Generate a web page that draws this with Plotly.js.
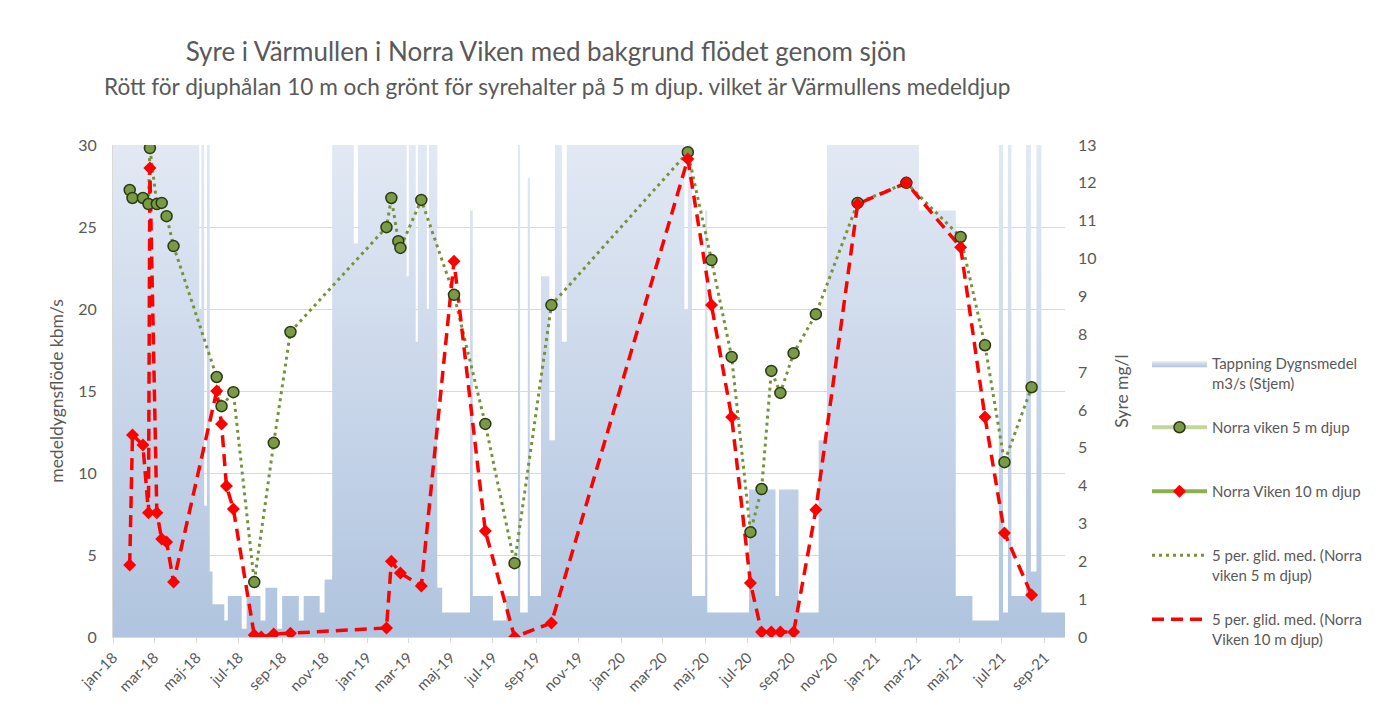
<!DOCTYPE html>
<html>
<head>
<meta charset="utf-8">
<script src="https://cdn.plot.ly/plotly-3.0.1.min.js"></script>
<style>html,body{margin:0;padding:0;background:#fff;}#chart{width:1394px;height:716px;}</style>
</head>
<body>
<div id="chart"></div>
<script>
// Tick labels (every second month, Swedish abbreviations)
const tickDates = ['2018-01-01','2018-03-01','2018-05-01','2018-07-01','2018-09-01','2018-11-01',
  '2019-01-01','2019-03-01','2019-05-01','2019-07-01','2019-09-01','2019-11-01',
  '2020-01-01','2020-03-01','2020-05-01','2020-07-01','2020-09-01','2020-11-01',
  '2021-01-01','2021-03-01','2021-05-01','2021-07-01','2021-09-01'];
const tickLabels = ['jan-18','mar-18','maj-18','jul-18','sep-18','nov-18',
  'jan-19','mar-19','maj-19','jul-19','sep-19','nov-19',
  'jan-20','mar-20','maj-20','jul-20','sep-20','nov-20',
  'jan-21','mar-21','maj-21','jul-21','sep-21'];

// Flow (Tappning dygnsmedel m3/s), step values read from the background
const flowDates = ['2018-01-01','2018-05-05','2018-05-08','2018-05-12','2018-05-16','2018-05-20','2018-05-24','2018-06-10','2018-06-15',
  '2018-07-05','2018-07-12','2018-08-01','2018-08-08','2018-08-25','2018-09-01','2018-09-25','2018-10-02','2018-10-25',
  '2018-11-01','2018-11-12','2018-12-13','2018-12-19','2019-02-27','2019-03-02','2019-03-12','2019-03-15','2019-03-28',
  '2019-03-31','2019-04-12','2019-04-19','2019-05-29','2019-06-02','2019-07-01','2019-07-20','2019-08-06','2019-08-09',
  '2019-08-20','2019-08-23','2019-09-08','2019-09-20','2019-09-28','2019-10-08','2019-10-15','2020-04-01','2020-04-06',
  '2020-04-12','2020-05-01','2020-05-04','2020-07-03','2020-08-10','2020-08-15','2020-09-12','2020-10-11','2020-10-23',
  '2021-03-04','2021-04-26','2021-05-20','2021-06-27','2021-07-03','2021-07-10','2021-07-15','2021-08-05','2021-08-12',
  '2021-08-20','2021-08-27','2021-09-30'];
const flowValues = [36,20,34,8,30,4,2,1,2.5,
  0.5,2.5,1,3,0.5,2.5,1,2.5,1.5,
  3.5,36,24,36,22,36,18,36,20,
  36,3,1.5,26,2.5,1,2.5,30,1.5,
  28,2.5,22,12,30,18,36,20,34,
  2.5,26,1.5,9,2.5,9,1.5,12,36,
  26,2.5,1,32,1.5,30,2.5,32,4,
  30,1.5,1.5];

// Oxygen, Norra viken 5 m depth (mg/l)
const green5Dates = ['2018-01-25','2018-01-29','2018-02-13','2018-02-21','2018-02-23','2018-03-05','2018-03-12','2018-03-19','2018-03-29',
  '2018-05-30','2018-06-06','2018-06-23','2018-07-23','2018-08-20','2018-09-13',
  '2019-01-29','2019-02-05','2019-02-15','2019-02-18','2019-03-20','2019-05-06','2019-06-20','2019-08-01','2019-09-23',
  '2020-04-06','2020-05-10','2020-06-08','2020-07-05','2020-07-21','2020-08-04','2020-08-17','2020-09-05','2020-10-07','2020-12-06',
  '2021-02-14','2021-05-03','2021-06-07','2021-07-05','2021-08-13'];
const green5Values = [11.81,11.6,11.6,11.44,12.92,11.44,11.47,11.12,10.33,
  6.87,6.10,6.47,1.45,5.13,8.06,
  10.83,11.60,10.46,10.28,11.55,9.04,5.63,1.95,8.77,
  12.81,9.96,7.40,2.77,3.91,7.03,6.45,7.50,8.53,11.47,
  12.00,10.57,7.71,4.62,6.60];

// Oxygen, Norra Viken 10 m depth (mg/l)
const red10Dates = ['2018-01-25','2018-01-29','2018-02-13','2018-02-21','2018-02-23','2018-03-05','2018-03-12','2018-03-19','2018-03-29',
  '2018-05-30','2018-06-06','2018-06-13','2018-06-23','2018-07-23','2018-08-02','2018-08-20','2018-09-13',
  '2019-01-29','2019-02-05','2019-02-18','2019-03-20','2019-05-06','2019-06-20','2019-08-01','2019-09-23',
  '2020-04-06','2020-05-10','2020-06-08','2020-07-05','2020-07-21','2020-08-04','2020-08-17','2020-09-05','2020-10-07','2020-12-06',
  '2021-02-14','2021-05-03','2021-06-07','2021-07-05','2021-08-13'];
const red10Values = [1.90,5.34,5.07,3.28,12.39,3.28,2.59,2.51,1.45,
  6.50,5.63,3.99,3.38,0.05,0.0,0.08,0.10,
  0.24,2.00,1.69,1.35,9.93,2.80,0.0,0.37,
  12.63,8.77,5.81,1.43,0.13,0.13,0.13,0.13,3.36,11.44,
  12.00,10.30,5.81,2.75,1.11];

const FONT = 'Lato, "Open Sans", sans-serif';
const GREY = '#595959';
const greenMarker = {symbol:'circle', size:11, color:'#7a9a45', line:{color:'#2a3a14', width:1.5}};
const redMarker = {symbol:'diamond', size:10, color:'#ff0000', line:{width:0}};

const traces = [
  {name:'Tappning Dygnsmedel<br>m3/s (Stjem)', legendrank:1, legendgroup:'a',
   x:flowDates, y:flowValues, type:'scatter', mode:'lines', line:{width:0, shape:'hv'},
   fill:'tozeroy', fillcolor:'#c3d3e8',
   fillgradient:{type:'vertical', start:0, stop:30, colorscale:[[0,'#b0c4df'],[1,'#e2e9f4']]},
   hoverinfo:'skip'},
  {name:'5 per. glid. med. (Norra<br>viken 5 m djup)', legendrank:4, legendgroup:'d',
   x:green5Dates, y:green5Values, yaxis:'y2', type:'scatter', mode:'lines',
   line:{color:'#76923c', width:3, dash:'3px,4px'}},
  {name:'5 per. glid. med. (Norra<br>Viken 10 m djup)', legendrank:5, legendgroup:'e',
   x:red10Dates, y:red10Values, yaxis:'y2', type:'scatter', mode:'lines',
   line:{color:'#ff0000', width:3.5, dash:'12px,7px'}},
  {name:'Norra viken 5 m djup', showlegend:false, x:green5Dates, y:green5Values, yaxis:'y2',
   type:'scatter', mode:'markers', marker:greenMarker},
  {name:'Norra Viken 10 m djup', showlegend:false, x:red10Dates, y:red10Values, yaxis:'y2',
   type:'scatter', mode:'markers', marker:redMarker},
  // legend keys for the two measured series (line + marker as in the original legend)
  {name:'Norra viken 5 m djup<br>\u00a0', legendrank:2, legendgroup:'b', x:[null], y:[null], yaxis:'y2',
   type:'scatter', mode:'lines+markers', line:{color:'#c3d69b', width:4}, marker:greenMarker},
  {name:'Norra Viken 10 m djup<br>\u00a0', legendrank:3, legendgroup:'c', x:[null], y:[null], yaxis:'y2',
   type:'scatter', mode:'lines+markers', line:{color:'#8db04f', width:4}, marker:redMarker}
];

const layout = {
  width:1394, height:716, autosize:false,
  paper_bgcolor:'#ffffff', plot_bgcolor:'#ffffff',
  margin:{l:113, r:329, t:145, b:79},
  font:{family:FONT, color:GREY, size:15},
  title:{text:'Syre i Värmullen i Norra Viken med bakgrund flödet genom sjön',
    font:{family:FONT, size:26, color:GREY}, xref:'container', x:546/1394, xanchor:'center',
    yref:'container', y:1-52/716, yanchor:'middle'},
  annotations:[{text:'Rött för djuphålan 10 m och grönt för syrehalter på 5 m djup. vilket är Värmullens medeldjup',
    xref:'paper', yref:'paper', x:(557-113)/952, y:(637-86)/492, xanchor:'center', yanchor:'middle',
    showarrow:false, font:{family:FONT, size:22.6, color:GREY}}],
  xaxis:{type:'date', range:['2018-01-01','2021-09-30'], tickvals:tickDates, ticktext:tickLabels,
    tickangle:-45, ticks:'outside', ticklen:5, tickcolor:'#d9d9d9', showline:true, linecolor:'#d9d9d9',
    showgrid:false, zeroline:false, tickfont:{size:15, color:GREY}},
  yaxis:{range:[0,30], dtick:5, tick0:0, gridcolor:'#d9d9d9', showline:true, linecolor:'#d9d9d9', zeroline:false,
    ticks:'', ticklabelstandoff:12, tickfont:{size:16, color:GREY},
    title:{text:'medeldygnsflöde kbm/s', font:{size:17.5, color:GREY}, standoff:10}},
  yaxis2:{range:[0,13], dtick:1, tick0:0, overlaying:'y', side:'right', showgrid:false, zeroline:false,
    showline:false, ticks:'', ticklabelstandoff:12, tickfont:{size:16, color:GREY},
    title:{text:'Syre mg/l', font:{size:17.5, color:GREY}, standoff:20}},
  legend:{x:(1147-113)/952, xanchor:'left', y:(637-347)/492, yanchor:'top', valign:'top',
    font:{size:15, color:GREY, family:FONT}, tracegroupgap:22, itemwidth:55, bgcolor:'rgba(0,0,0,0)'},
  showlegend:true
};

Plotly.newPlot('chart', traces, layout, {displayModeBar:false, staticPlot:true});
</script>
</body>
</html>
